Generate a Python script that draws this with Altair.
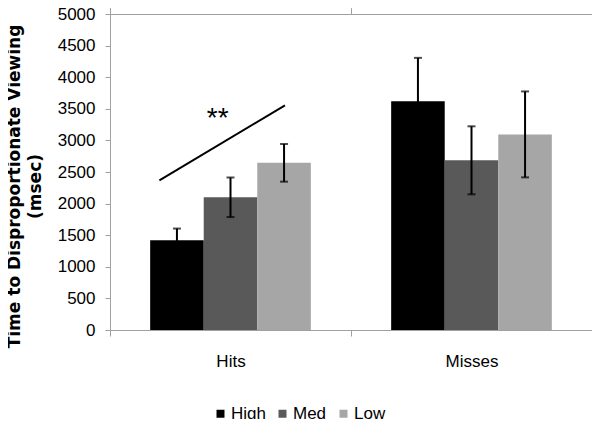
import altair as alt
import pandas as pd

# ---- data ----
categories = ["Hits", "Misses"]
levels = ["High", "Med", "Low"]
means_hits = [1420, 2100, 2645]
means_misses = [3620, 2685, 3095]
err_hits = [185, 313, 298]
err_misses = [686, 538, 680]
level_colors = ["#000000", "#595959", "#a6a6a6"]
y_ticks = [0, 500, 1000, 1500, 2000, 2500, 3000, 3500, 4000, 4500, 5000]

# significance annotation (in category units: 0..2 across the two groups)
sig_line_x = [0.205, 0.726]
sig_line_y = [2369, 3555]
sig_text = ["**"]
sig_text_x = [0.447]
sig_text_y = [3560]

FONT = "Liberation Sans"
TITLE_FONT = "DejaVu Sans"

rows = []
for cat, means, errs in [("Hits", means_hits, err_hits), ("Misses", means_misses, err_misses)]:
    for lvl, m, e in zip(levels, means, errs):
        rows.append({"cat": cat, "level": lvl, "mean": m, "lo": m - e, "hi": m + e})
df = pd.DataFrame(rows)

line_df = pd.DataFrame({"x": sig_line_x, "y": sig_line_y})
text_df = pd.DataFrame({"x": sig_text_x, "y": sig_text_y, "t": sig_text})

yscale = alt.Scale(domain=[0, 5000], nice=False)

xenc = alt.X(
    "cat:N",
    sort=categories,
    scale=alt.Scale(paddingInner=0, paddingOuter=0),
    axis=alt.Axis(
        title=None, labelAngle=0, tickBand="extent", tickSize=6,
        labelPadding=17, labelFontSize=17, labelColor="#000000",
        domainColor="#a0a0a0", tickColor="#a0a0a0", labelFont=FONT,
    ),
)
xoff = alt.XOffset("level:N", sort=levels, scale=alt.Scale(paddingInner=0, paddingOuter=0.75))

yaxis = alt.Axis(
    values=y_ticks, format="d", grid=False, tickSize=5, labelPadding=10, labelFontSize=17,
    labelColor="#000000", domainColor="#a0a0a0", tickColor="#a0a0a0", labelFont=FONT,
    labelOverlap=False,
    title=["Time to Disproportionate Viewing", "(msec)"],
    titleFont=TITLE_FONT, titleFontSize=17, titleFontWeight="bold", titleColor="#000000",
    titleAngle=270, titleAlign="center", titleBaseline="alphabetic",
    titleX=-91, titleY=172, titleLineHeight=21,
)


def yenc(field):
    return alt.Y(field, scale=yscale, axis=yaxis)


bars = alt.Chart(df).mark_bar().encode(
    x=xenc,
    xOffset=xoff,
    y=yenc("mean:Q"),
    color=alt.Color(
        "level:N",
        scale=alt.Scale(domain=levels, range=level_colors),
        legend=alt.Legend(
            title=None, orient="none", legendX=102, legendY=391, direction="horizontal",
            symbolType="square", symbolSize=64, symbolStrokeWidth=0, labelFontSize=17,
            labelFont=FONT, labelColor="#000000", labelOffset=2, columnPadding=8, padding=0,
        ),
    ),
)

ERR_COLOR = "#000000"
err_rules = alt.Chart(df).mark_rule(color=ERR_COLOR, strokeWidth=2).encode(
    x=xenc, xOffset=xoff, y=yenc("lo:Q"), y2="hi:Q",
)
err_top = alt.Chart(df).mark_tick(color=ERR_COLOR, thickness=2, size=8).encode(
    x=xenc, xOffset=xoff, y=yenc("hi:Q"),
)
err_bot = alt.Chart(df).mark_tick(color=ERR_COLOR, thickness=2, size=8).encode(
    x=xenc, xOffset=xoff, y=yenc("lo:Q"),
)

qx = alt.Scale(domain=[0, 2], nice=False, zero=False)
sig_line = alt.Chart(line_df).mark_line(color="#000000", strokeWidth=2).encode(
    x=alt.X("x:Q", scale=qx, axis=None),
    y=yenc("y:Q"),
)
sig_label = alt.Chart(text_df).mark_text(
    fontSize=28, font=FONT, baseline="top", align="center", color="#000000"
).encode(
    x=alt.X("x:Q", scale=qx, axis=None),
    y=yenc("y:Q"),
    text="t:N",
)

chart = (
    alt.layer(bars, err_rules, err_top, err_bot, sig_line, sig_label)
    .resolve_scale(x="independent")
    .properties(
        width=482, height=316,
        autosize=alt.AutoSizeParams(type="none"),
        padding={"left": 102, "top": 6, "right": 0, "bottom": 89},
        background="white",
    )
    .configure_view(stroke=None)
)

chart.save("out.html", embed_options={"renderer": "svg", "actions": False})
